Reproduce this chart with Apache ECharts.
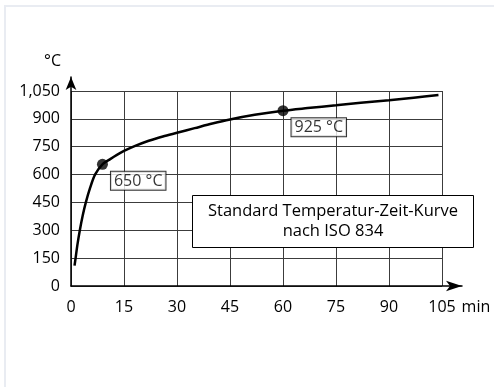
<!DOCTYPE html>
<html>
<head>
<meta charset="utf-8">
<script src="https://cdn.jsdelivr.net/npm/echarts@6/dist/echarts.min.js"></script>
<style>
  html, body { margin: 0; padding: 0; background: #fff; overflow: hidden; }
  #frame { position: absolute; left: 4px; top: 5px; width: 600px; height: 500px;
           border-top: 2px solid #e9ecf2; border-left: 2px solid #e9ecf2; }
  #chart { position: absolute; left: 0; top: 0; width: 494px; height: 387px; }
</style>
</head>
<body>
<div id="frame"></div>
<div id="chart"></div>
<script>
// Data
const timeMin = [1.0, 1.3, 1.8, 2.5, 3.3, 4.2, 5.4, 6.8, 8.9, 11, 13, 15, 18, 22, 26, 30, 35, 40, 45, 52, 60, 67, 75, 82, 90, 97, 104];
const tempC   = [110, 150, 220, 300, 378, 450, 528, 600, 655, 682, 706, 727, 753, 782, 805, 825, 850, 875, 897, 922, 944, 958, 973, 987, 1000, 1014, 1028];
const markTime = [8.9, 60];
const markTemp = [655, 944];
const markLabels = ['650 °C', '925 °C'];
const xTicks = [0, 15, 30, 45, 60, 75, 90, 105];
const yTicks = [0, 150, 300, 450, 600, 750, 900, 1050];
const noteLines = ['Standard Temperatur-Zeit-Kurve', 'nach ISO 834'];

const FONT = '"Open Sans", "Noto Sans", sans-serif';
const INK = '#000';
const chart = echarts.init(document.getElementById('chart'), null, { renderer: 'canvas' });

const curve = timeMin.map((t, i) => [t, tempC[i]]);
const marks = markTime.map((t, i) => ({ value: [t, markTemp[i]], label: { formatter: markLabels[i] } }));

chart.setOption({
  animation: false,
  textStyle: { fontFamily: FONT, color: INK },
  grid: [
    { left: 71, right: 52, top: 91, bottom: 101 },
    { left: 71, right: 32, top: 77, bottom: 101 }
  ],
  xAxis: [
    {
      type: 'value', gridIndex: 0,
      min: xTicks[0], max: xTicks[xTicks.length - 1], interval: xTicks[1] - xTicks[0],
      axisLine: { show: false }, axisTick: { show: false },
      splitLine: { show: true, lineStyle: { color: '#3c3c3c', width: 1 } },
      axisLabel: { fontSize: 16, color: INK, margin: 13, fontFamily: FONT },
      name: 'min', nameLocation: 'end', nameGap: 19,
      nameTextStyle: { fontSize: 16, color: INK, align: 'left', verticalAlign: 'top', padding: [13, 0, 0, 0], fontFamily: FONT }
    },
    {
      type: 'value', gridIndex: 1, min: 0, max: 1,
      axisLine: { show: true, symbol: ['none', 'arrow'], symbolSize: [8, 16], lineStyle: { color: '#000', width: 1.5 } },
      axisTick: { show: false }, axisLabel: { show: false }, splitLine: { show: false }
    }
  ],
  yAxis: [
    {
      type: 'value', gridIndex: 0,
      min: yTicks[0], max: yTicks[yTicks.length - 1], interval: yTicks[1] - yTicks[0],
      axisLine: { show: false }, axisTick: { show: false },
      splitLine: { show: true, lineStyle: { color: '#3c3c3c', width: 1 } },
      axisLabel: {
        fontSize: 16, color: INK, margin: 11, fontFamily: FONT,
        formatter: v => v.toLocaleString('en-US')
      },
      name: '°C', nameLocation: 'end', nameGap: 22,
      nameTextStyle: { fontSize: 16, color: INK, align: 'right', verticalAlign: 'bottom', padding: [0, 10, 0, 0], fontFamily: FONT }
    },
    {
      type: 'value', gridIndex: 1, min: 0, max: 1,
      axisLine: { show: true, symbol: ['none', 'arrow'], symbolSize: [8, 13], lineStyle: { color: '#000', width: 1.5 } },
      axisTick: { show: false }, axisLabel: { show: false }, splitLine: { show: false }
    }
  ],
  series: [
    {
      type: 'line', xAxisIndex: 0, yAxisIndex: 0,
      data: curve, showSymbol: false, smooth: 0.3,
      lineStyle: { color: '#000', width: 2.5 }, z: 3
    },
    {
      type: 'scatter', xAxisIndex: 0, yAxisIndex: 0,
      data: marks, symbolSize: 11, itemStyle: { color: '#000' }, z: 4,
      label: {
        show: true, position: [14, 13],
        fontSize: 16, color: INK, fontFamily: FONT,
        backgroundColor: '#fff', borderColor: '#000', borderWidth: 1,
        padding: [1, 3, 0, 3], lineHeight: 17
      }
    }
  ],
  graphic: [
    {
      type: 'group', left: 192, top: 195, z: 100,
      children: [
        { type: 'rect', z: 100, shape: { x: 0, y: 0, width: 281, height: 52 },
          style: { fill: '#fff', stroke: '#000', lineWidth: 1 } },
        { type: 'text', z: 101, x: 140.5, y: 26,
          style: { text: noteLines.join('\n'), font: '16.5px ' + FONT, fill: INK,
                   align: 'center', verticalAlign: 'middle', lineHeight: 20 } }
      ]
    }
  ]
});
</script>
</body>
</html>
